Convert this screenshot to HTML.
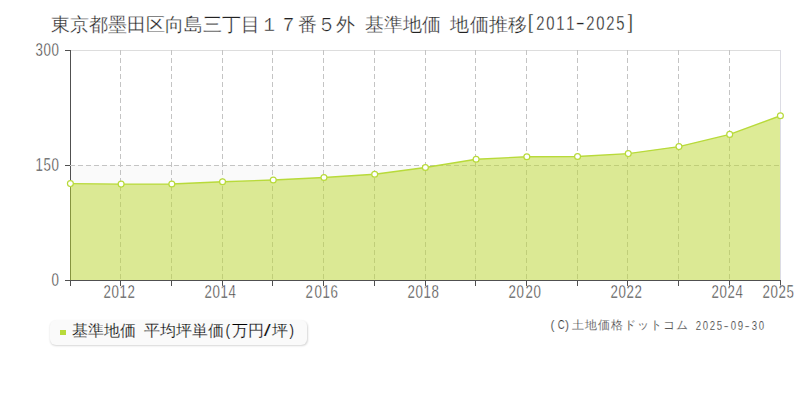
<!DOCTYPE html>
<html lang="ja"><head><meta charset="utf-8"><style>
html,body{margin:0;padding:0;background:#fff;}
body{width:800px;height:400px;position:relative;overflow:hidden;font-family:"Liberation Sans",sans-serif;}
svg{position:absolute;left:0;top:0;}
.tx{position:absolute;white-space:nowrap;line-height:1;}
.tx i{display:inline-block;font-style:normal;text-align:center;overflow:visible;}
.tx b{display:inline-block;font-weight:normal;}
.legend{position:absolute;left:50px;top:320px;width:257px;height:25px;background:#fafafa;border-radius:6px;box-shadow:0.5px 1px 2px rgba(0,0,0,0.16);}
.legend .sq{position:absolute;left:10px;top:10px;width:5.5px;height:5px;background:#b8da3a;}
</style></head><body>
<svg width="800" height="400" viewBox="0 0 800 400">
<rect x="70" y="165" width="710" height="115" fill="#fafafa"/>
<line x1="70" y1="50.5" x2="780" y2="50.5" stroke="#dddddd" stroke-width="1"/>
<line x1="780.5" y1="50" x2="780.5" y2="280" stroke="#dcdce4" stroke-width="1"/>
<line x1="70.5" y1="50" x2="70.5" y2="280" stroke="#505050" stroke-width="1"/>
<g stroke="#c4c4c4" stroke-width="1" stroke-dasharray="5,3"><line x1="120.5" y1="50" x2="120.5" y2="280"/><line x1="171.5" y1="50" x2="171.5" y2="280"/><line x1="222.5" y1="50" x2="222.5" y2="280"/><line x1="272.5" y1="50" x2="272.5" y2="280"/><line x1="323.5" y1="50" x2="323.5" y2="280"/><line x1="374.5" y1="50" x2="374.5" y2="280"/><line x1="425.5" y1="50" x2="425.5" y2="280"/><line x1="475.5" y1="50" x2="475.5" y2="280"/><line x1="526.5" y1="50" x2="526.5" y2="280"/><line x1="577.5" y1="50" x2="577.5" y2="280"/><line x1="627.5" y1="50" x2="627.5" y2="280"/><line x1="678.5" y1="50" x2="678.5" y2="280"/><line x1="729.5" y1="50" x2="729.5" y2="280"/><line x1="70" y1="165.5" x2="780" y2="165.5"/></g>
<path d="M70,280 L70,183.6 L121.11,184.1 L171.83,184 L222.54,181.75 L273.26,180 L323.97,177.5 L374.69,174.25 L425.4,167.5 L476.11,159.25 L526.83,156.75 L577.54,156.5 L628.26,153.6 L678.97,146.6 L729.69,134.4 L780,115.75 L780,280 Z" fill="rgba(187,215,45,0.5)"/>

<polyline points="70.4,183.6 121.11,184.1 171.83,184 222.54,181.75 273.26,180 323.97,177.5 374.69,174.25 425.4,167.5 476.11,159.25 526.83,156.75 577.54,156.5 628.26,153.6 678.97,146.6 729.69,134.4 780.4,115.75" fill="none" stroke="#b8da3a" stroke-width="1.35" stroke-linejoin="round"/>
<g fill="#fff" stroke="#b8da3a" stroke-width="1.2"><circle cx="70.4" cy="183.6" r="2.95"/><circle cx="121.11" cy="184.1" r="2.95"/><circle cx="171.83" cy="184" r="2.95"/><circle cx="222.54" cy="181.75" r="2.95"/><circle cx="273.26" cy="180" r="2.95"/><circle cx="323.97" cy="177.5" r="2.95"/><circle cx="374.69" cy="174.25" r="2.95"/><circle cx="425.4" cy="167.5" r="2.95"/><circle cx="476.11" cy="159.25" r="2.95"/><circle cx="526.83" cy="156.75" r="2.95"/><circle cx="577.54" cy="156.5" r="2.95"/><circle cx="628.26" cy="153.6" r="2.95"/><circle cx="678.97" cy="146.6" r="2.95"/><circle cx="729.69" cy="134.4" r="2.95"/><circle cx="780.4" cy="115.75" r="2.95"/></g>
<g stroke="#505050" stroke-width="1">
<line x1="65" y1="280.5" x2="781" y2="280.5"/>
<line x1="65" y1="50.5" x2="70" y2="50.5"/>
<line x1="65" y1="165.5" x2="70" y2="165.5"/>
</g>
<g stroke="#505050" stroke-width="1"><line x1="70.5" y1="280" x2="70.5" y2="286"/><line x1="120.5" y1="280" x2="120.5" y2="286"/><line x1="171.5" y1="280" x2="171.5" y2="286"/><line x1="222.5" y1="280" x2="222.5" y2="286"/><line x1="272.5" y1="280" x2="272.5" y2="286"/><line x1="323.5" y1="280" x2="323.5" y2="286"/><line x1="374.5" y1="280" x2="374.5" y2="286"/><line x1="425.5" y1="280" x2="425.5" y2="286"/><line x1="475.5" y1="280" x2="475.5" y2="286"/><line x1="526.5" y1="280" x2="526.5" y2="286"/><line x1="577.5" y1="280" x2="577.5" y2="286"/><line x1="627.5" y1="280" x2="627.5" y2="286"/><line x1="678.5" y1="280" x2="678.5" y2="286"/><line x1="729.5" y1="280" x2="729.5" y2="286"/><line x1="780.5" y1="280" x2="780.5" y2="286"/></g>
</svg>
<div class="tx" style="left:50.5px;top:15px;font-size:19px;height:19px;color:#222;-webkit-text-stroke:0.3px #fff;"><i style="width:19.05px">東</i><i style="width:19.05px">京</i><i style="width:19.05px">都</i><i style="width:19.05px">墨</i><i style="width:19.05px">田</i><i style="width:19.05px">区</i><i style="width:19.05px">向</i><i style="width:19.05px">島</i><i style="width:19.05px">三</i><i style="width:19.05px">丁</i><i style="width:19.05px">目</i><i style="width:19.05px">１</i><i style="width:19.05px">７</i><i style="width:19.05px">番</i><i style="width:19.05px">５</i><i style="width:19.05px">外</i><i style="width:9.53px"></i><i style="width:19.05px">基</i><i style="width:19.05px">準</i><i style="width:19.05px">地</i><i style="width:19.05px">価</i><i style="width:9.53px"></i><i style="width:19.05px">地</i><i style="width:19.05px">価</i><i style="width:19.05px">推</i><i style="width:19.05px">移</i></div><div class="tx" style="left:525.45px;top:15px;font-size:19px;height:19px;color:#222;-webkit-text-stroke:0.3px #fff;"><i style="width:10px"><b style="transform:scale(1,1.05) translateY(-2.5px)">[</b></i><i style="width:10px"><b style="transform:translateY(-1.7px) scale(0.78,1.1)">2</b></i><i style="width:10px"><b style="transform:translateY(-1.7px) scale(0.78,1.1)">0</b></i><i style="width:10px"><b style="transform:translateY(-1.7px) scale(0.78,1.1)">1</b></i><i style="width:10px"><b style="transform:translateY(-1.7px) scale(0.78,1.1)">1</b></i><i style="width:10px"><b style="transform:translateY(-2px) scaleX(1.5)">-</b></i><i style="width:10px"><b style="transform:translateY(-1.7px) scale(0.78,1.1)">2</b></i><i style="width:10px"><b style="transform:translateY(-1.7px) scale(0.78,1.1)">0</b></i><i style="width:10px"><b style="transform:translateY(-1.7px) scale(0.78,1.1)">2</b></i><i style="width:10px"><b style="transform:translateY(-1.7px) scale(0.78,1.1)">5</b></i><i style="width:10px"><b style="transform:scale(1,1.05) translateY(-2.5px)">]</b></i></div><div class="tx" style="left:33.7px;top:40px;font-size:19px;height:19px;color:#3a3a3a;-webkit-text-stroke:0.4px #fff;"><i style="width:8.1px"><b style="transform:scaleX(0.7)">3</b></i><i style="width:8.1px"><b style="transform:scaleX(0.7)">0</b></i><i style="width:8.1px"><b style="transform:scaleX(0.7)">0</b></i></div><div class="tx" style="left:33.7px;top:155px;font-size:19px;height:19px;color:#3a3a3a;-webkit-text-stroke:0.4px #fff;"><i style="width:8.1px"><b style="transform:scaleX(0.7)">1</b></i><i style="width:8.1px"><b style="transform:scaleX(0.7)">5</b></i><i style="width:8.1px"><b style="transform:scaleX(0.7)">0</b></i></div><div class="tx" style="left:49.9px;top:270px;font-size:19px;height:19px;color:#3a3a3a;-webkit-text-stroke:0.4px #fff;"><i style="width:8.1px"><b style="transform:scaleX(0.7)">0</b></i></div><div class="tx" style="left:101.61px;top:282px;font-size:19px;height:19px;color:#3a3a3a;-webkit-text-stroke:0.4px #fff;"><i style="width:8.1px"><b style="transform:scaleX(0.7)">2</b></i><i style="width:8.1px"><b style="transform:scaleX(0.7)">0</b></i><i style="width:8.1px"><b style="transform:scaleX(0.7)">1</b></i><i style="width:8.1px"><b style="transform:scaleX(0.7)">2</b></i></div><div class="tx" style="left:203.04px;top:282px;font-size:19px;height:19px;color:#3a3a3a;-webkit-text-stroke:0.4px #fff;"><i style="width:8.1px"><b style="transform:scaleX(0.7)">2</b></i><i style="width:8.1px"><b style="transform:scaleX(0.7)">0</b></i><i style="width:8.1px"><b style="transform:scaleX(0.7)">1</b></i><i style="width:8.1px"><b style="transform:scaleX(0.7)">4</b></i></div><div class="tx" style="left:304.47px;top:282px;font-size:19px;height:19px;color:#3a3a3a;-webkit-text-stroke:0.4px #fff;"><i style="width:8.1px"><b style="transform:scaleX(0.7)">2</b></i><i style="width:8.1px"><b style="transform:scaleX(0.7)">0</b></i><i style="width:8.1px"><b style="transform:scaleX(0.7)">1</b></i><i style="width:8.1px"><b style="transform:scaleX(0.7)">6</b></i></div><div class="tx" style="left:405.9px;top:282px;font-size:19px;height:19px;color:#3a3a3a;-webkit-text-stroke:0.4px #fff;"><i style="width:8.1px"><b style="transform:scaleX(0.7)">2</b></i><i style="width:8.1px"><b style="transform:scaleX(0.7)">0</b></i><i style="width:8.1px"><b style="transform:scaleX(0.7)">1</b></i><i style="width:8.1px"><b style="transform:scaleX(0.7)">8</b></i></div><div class="tx" style="left:507.33px;top:282px;font-size:19px;height:19px;color:#3a3a3a;-webkit-text-stroke:0.4px #fff;"><i style="width:8.1px"><b style="transform:scaleX(0.7)">2</b></i><i style="width:8.1px"><b style="transform:scaleX(0.7)">0</b></i><i style="width:8.1px"><b style="transform:scaleX(0.7)">2</b></i><i style="width:8.1px"><b style="transform:scaleX(0.7)">0</b></i></div><div class="tx" style="left:608.76px;top:282px;font-size:19px;height:19px;color:#3a3a3a;-webkit-text-stroke:0.4px #fff;"><i style="width:8.1px"><b style="transform:scaleX(0.7)">2</b></i><i style="width:8.1px"><b style="transform:scaleX(0.7)">0</b></i><i style="width:8.1px"><b style="transform:scaleX(0.7)">2</b></i><i style="width:8.1px"><b style="transform:scaleX(0.7)">2</b></i></div><div class="tx" style="left:710.19px;top:282px;font-size:19px;height:19px;color:#3a3a3a;-webkit-text-stroke:0.4px #fff;"><i style="width:8.1px"><b style="transform:scaleX(0.7)">2</b></i><i style="width:8.1px"><b style="transform:scaleX(0.7)">0</b></i><i style="width:8.1px"><b style="transform:scaleX(0.7)">2</b></i><i style="width:8.1px"><b style="transform:scaleX(0.7)">4</b></i></div><div class="tx" style="left:760.9px;top:282px;font-size:19px;height:19px;color:#3a3a3a;-webkit-text-stroke:0.4px #fff;"><i style="width:8.1px"><b style="transform:scaleX(0.7)">2</b></i><i style="width:8.1px"><b style="transform:scaleX(0.7)">0</b></i><i style="width:8.1px"><b style="transform:scaleX(0.7)">2</b></i><i style="width:8.1px"><b style="transform:scaleX(0.7)">5</b></i></div>
<div class="legend"><div class="sq"></div><div class="tx" style="left:21.5px;top:2.5px;font-size:16px;height:16px;color:#000;-webkit-text-stroke:0.2px #fafafa;"><i style="width:16px">基</i><i style="width:16px">準</i><i style="width:16px">地</i><i style="width:16px">価</i><i style="width:8px"></i><i style="width:16px">平</i><i style="width:16px">均</i><i style="width:16px">坪</i><i style="width:16px">単</i><i style="width:16px">価</i><i style="width:8px"><b style="transform:scaleX(0.85)">(</b></i><i style="width:16px">万</i><i style="width:16px">円</i><i style="width:8px"><b style="transform:scale(1.6,1.05)">/</b></i><i style="width:16px">坪</i><i style="width:8px"><b style="transform:scaleX(0.85)">)</b></i></div></div>
<div class="tx" style="left:550.4px;top:319px;font-size:12px;height:12px;color:#333;-webkit-text-stroke:0.2px #fff;"><i style="width:7px"><b style="transform:translateX(-1.4px)">(</b></i><i style="width:7px"><b style="transform:scaleX(0.8)">C</b></i><i style="width:7px"><b style="transform:translateX(-1px)">)</b></i></div><div class="tx" style="left:571.4px;top:319px;font-size:12px;height:12px;color:#333;-webkit-text-stroke:0.2px #fff;"><i style="width:13px">土</i><i style="width:13px">地</i><i style="width:13px">価</i><i style="width:13px">格</i><i style="width:13px">ド</i><i style="width:13px">ッ</i><i style="width:13px">ト</i><i style="width:13px">コ</i><i style="width:13px">ム</i></div><div class="tx" style="left:694.4px;top:320px;font-size:12px;height:12px;color:#333;-webkit-text-stroke:0.2px #fff;"><i style="width:7px"><b style="transform:scaleX(0.8)">2</b></i><i style="width:7px"><b style="transform:scaleX(0.8)">0</b></i><i style="width:7px"><b style="transform:scaleX(0.8)">2</b></i><i style="width:7px"><b style="transform:scaleX(0.8)">5</b></i><i style="width:7px"><b style="transform:scaleX(1.3)">-</b></i><i style="width:7px"><b style="transform:scaleX(0.8)">0</b></i><i style="width:7px"><b style="transform:scaleX(0.8)">9</b></i><i style="width:7px"><b style="transform:scaleX(1.3)">-</b></i><i style="width:7px"><b style="transform:scaleX(0.8)">3</b></i><i style="width:7px"><b style="transform:scaleX(0.8)">0</b></i></div>
</body></html>
